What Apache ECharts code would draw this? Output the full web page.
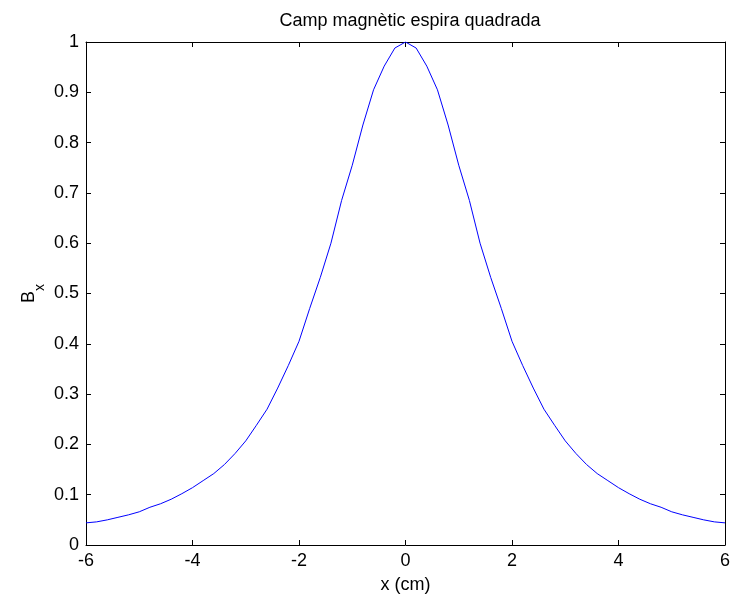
<!DOCTYPE html>
<html>
<head>
<meta charset="utf-8">
<script src="https://cdn.jsdelivr.net/npm/echarts@6/dist/echarts.min.js"></script>
<style>
html,body{margin:0;padding:0;background:#fff;}
#chart{width:734px;height:599px;}
</style>
</head>
<body>
<div id="chart"></div>
<script>
const titleText = 'Camp magnètic espira quadrada';
const xLabel = 'x (cm)';
const xs = [-6.0,-5.8,-5.6,-5.4,-5.2,-5.0,-4.8,-4.6,-4.4,-4.2,-4.0,-3.8,-3.6,-3.4,-3.2,-3.0,-2.8,-2.6,-2.4,-2.2,-2.0,
  -1.8,-1.6,-1.4,-1.2,-1.0,-0.8,-0.6,-0.4,-0.2,0.0,0.2,0.4,0.6,0.8,1.0,1.2,1.4,1.6,1.8,
  2.0,2.2,2.4,2.6,2.8,3.0,3.2,3.4,3.6,3.8,4.0,4.2,4.4,4.6,4.8,5.0,5.2,5.4,5.6,5.8,6.0];
const bx = [0.044,0.046,0.050,0.055,0.060,0.066,0.075,0.082,0.091,0.102,0.114,0.128,0.142,0.160,0.182,0.207,0.238,0.270,0.312,0.357,0.405,
  0.470,0.532,0.600,0.685,0.755,0.835,0.905,0.952,0.988,1.000,0.988,0.952,0.905,0.835,0.755,0.685,0.600,0.532,0.470,
  0.405,0.357,0.312,0.270,0.238,0.207,0.182,0.160,0.142,0.128,0.114,0.102,0.091,0.082,0.075,0.066,0.060,0.055,0.050,0.046,0.044];
const xTicks = [-6,-4,-2,0,2,4,6];
const yTicks = [0,0.1,0.2,0.3,0.4,0.5,0.6,0.7,0.8,0.9,1];

const chart = echarts.init(document.getElementById('chart'), null, {renderer:'canvas'});
const font = 'Liberation Sans, Arial, sans-serif';
const fs = 18;
const axisLine = {show:true, onZero:false, lineStyle:{color:'#000', width:1}};
const tick = {show:true, inside:true, length:5, lineStyle:{color:'#000', width:1}};
const xCommon = {type:'value', min:xTicks[0], max:xTicks[xTicks.length-1], interval:2,
  axisLine:axisLine, axisTick:tick, splitLine:{show:false}};
const yCommon = {type:'value', min:yTicks[0], max:yTicks[yTicks.length-1], interval:0.1,
  axisLine:axisLine, axisTick:tick, splitLine:{show:false}};
chart.setOption({
  backgroundColor:'#fff',
  animation:false,
  title:{text:titleText, left:405, top:7, textAlign:'center',
    textStyle:{fontFamily:font, fontSize:fs, fontWeight:'normal', color:'#000'}},
  grid:{left:86, right:9, top:42, bottom:54, containLabel:false},
  xAxis:[
    Object.assign({}, xCommon, {position:'bottom', name:xLabel, nameLocation:'middle', nameGap:31,
      nameTextStyle:{fontFamily:font, fontSize:fs, color:'#000'},
      axisLabel:{show:true, margin:7, fontFamily:font, fontSize:fs, color:'#000'}}),
    Object.assign({}, xCommon, {position:'top', axisLabel:{show:false}})
  ],
  yAxis:[
    Object.assign({}, yCommon, {position:'left', name:'{b|B}{s|x}', nameLocation:'middle', nameGap:48, nameRotate:90,
      nameMoveOverlap:false,
      nameTextStyle:{rich:{b:{fontFamily:font, fontSize:fs, color:'#000'}, s:{fontFamily:font, fontSize:14, color:'#000', verticalAlign:'bottom', padding:[0,0,-9,0]}}},
      axisLabel:{show:true, margin:7, fontFamily:font, fontSize:fs, color:'#000',
        formatter:function(v){return String(Math.round(v*10)/10);}}}),
    Object.assign({}, yCommon, {position:'right', axisLabel:{show:false}})
  ],
  series:[{
    type:'line', xAxisIndex:0, yAxisIndex:0,
    data: xs.map((x,i)=>[x, bx[i]]),
    showSymbol:false, symbol:'none',
    lineStyle:{color:'#0000ff', width:1},
    itemStyle:{color:'#0000ff'}
  }]
});
</script>
</body>
</html>
